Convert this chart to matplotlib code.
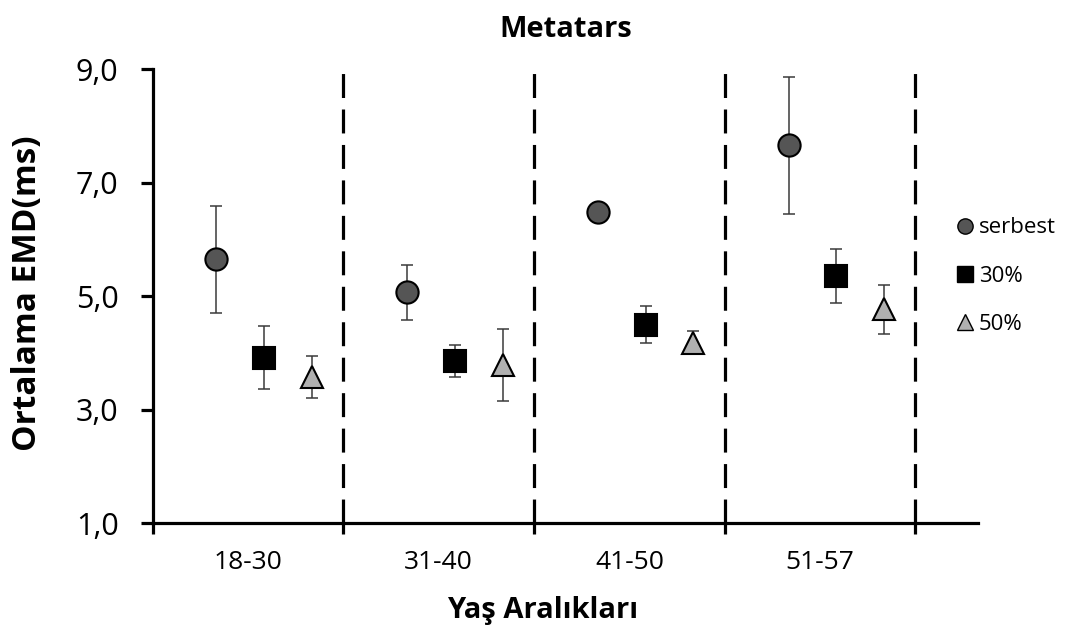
import matplotlib.pyplot as plt
from matplotlib.lines import Line2D

plt.rcParams["font.family"] = ["Open Sans", "DejaVu Sans"]

groups = ["18-30", "31-40", "41-50", "51-57"]
series = ["serbest", "30%", "50%"]

serbest = [5.65, 5.07, 6.49, 7.66]
serbest_err = [0.94, 0.49, 0.15, 1.21]
p30 = [3.92, 3.86, 4.50, 5.36]
p30_err = [0.55, 0.28, 0.33, 0.47]
p50 = [3.58, 3.79, 4.18, 4.77]
p50_err = [0.37, 0.635, 0.2, 0.43]

# where each series sits inside its age group
offsets = [-0.165, 0.085, 0.335]
markers = ["o", "s", "^"]
fills = ["#555555", "#000000", "#b0b0b0"]

fig = plt.figure(figsize=(10.72, 6.41), dpi=100)
ax = fig.add_axes([0.1423, 0.1836, 0.7700, 0.7083])

values = [serbest, p30, p50]
errors = [serbest_err, p30_err, p50_err]
for i in range(3):
    xs = [g + offsets[i] for g in range(len(groups))]
    ax.errorbar(xs, values[i], yerr=errors[i], fmt="none", ecolor="#3a3a3a",
                elinewidth=1.1, capsize=4.5, capthick=1.1, zorder=3)
    ax.plot(xs, values[i], linestyle="none", marker=markers[i], markersize=16,
            markerfacecolor=fills[i], markeredgecolor="black",
            markeredgewidth=1.5, zorder=4)

# dashed separators between the age groups
for b in [0.5, 1.5, 2.5, 3.5]:
    ax.plot([b, b], [1, 9], color="black", linewidth=2.3,
            dashes=(7.5, 3.6), zorder=2, clip_on=False)

ax.set_xlim(-0.5, 3.828)
ax.set_ylim(1, 9)
ax.set_yticks([1, 3, 5, 7, 9])
ax.set_yticklabels(["1,0", "3,0", "5,0", "7,0", "9,0"])
ax.set_xticks([-0.5, 0.5, 1.5, 2.5, 3.5])
ax.set_xticklabels([])
ax.set_xticks(range(len(groups)), minor=True)
ax.set_xticklabels(groups, minor=True)

for side in ["top", "right"]:
    ax.spines[side].set_visible(False)
for side in ["left", "bottom"]:
    ax.spines[side].set_linewidth(2.3)

ax.tick_params(axis="y", which="major", direction="out", length=8.5,
               width=2.3, labelsize=22, pad=16)
ax.tick_params(axis="x", which="major", direction="out", length=8,
               width=2.3)
ax.tick_params(axis="x", which="minor", length=0, labelsize=19, pad=19)

ax.set_title("Metatars", fontsize=21, fontweight="bold", pad=23)
ax.set_ylabel("Ortalama EMD(ms)", fontsize=24, fontweight="bold")
ax.yaxis.set_label_coords(-0.131, 0.506)
ax.set_xlabel("Yaş Aralıkları", fontsize=21, fontweight="bold")
ax.xaxis.set_label_coords(0.473, -0.16)

handles = [Line2D([], [], linestyle="none", marker=markers[i], markersize=11,
                  markerfacecolor=fills[i], markeredgecolor="black",
                  markeredgewidth=1.0) for i in range(3)]
fig.legend(handles, series, loc="upper left", bbox_to_anchor=(0.875, 0.692),
           frameon=False, fontsize=16, handlelength=0.6, handletextpad=0.35,
           labelspacing=1.22)

fig.savefig("out.png", dpi=100)
